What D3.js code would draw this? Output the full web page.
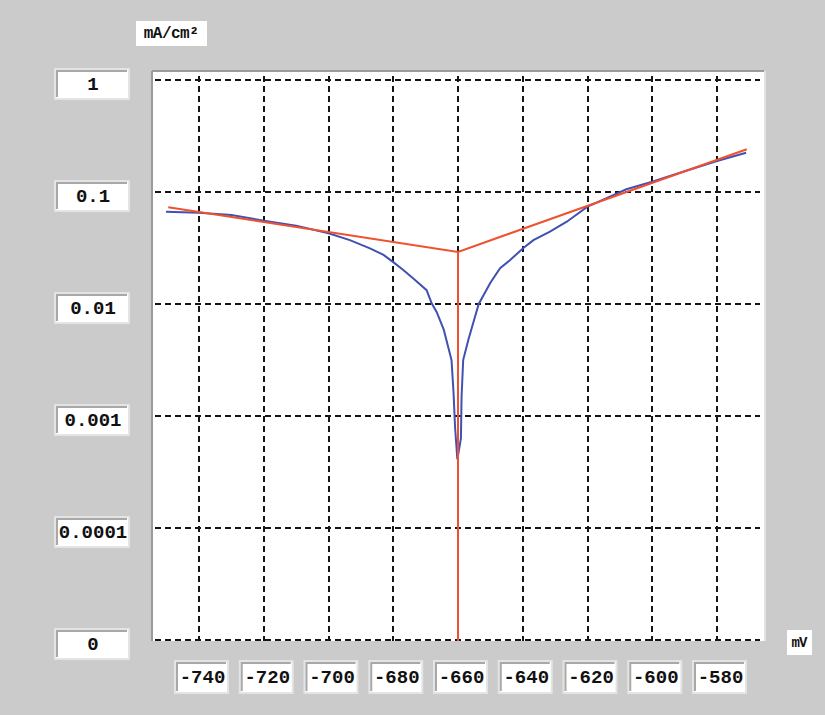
<!DOCTYPE html>
<html lang="en">
<head>
    <meta charset="UTF-8">
    <title>Tafel plot</title>
    <script src="https://cdn.jsdelivr.net/npm/d3@7"></script>
    <style>
        body{
            margin: 0;
            background: #cbcbcb;
        }
        .grid line{
            stroke: #151515;
            stroke-width: 2;
            stroke-dasharray: 6,4;
            shape-rendering: crispEdges;
        }
        .box text{
            font-family: 'Liberation Mono', monospace;
            font-weight: bold;
            font-size: 19px;
            fill: #111;
        }
    </style>
</head>
<body>
    <div id="container"></div>
</body>
</html>
<script>
    // measured curve: potential (mV) and current density (mA/cm2)
    var blueE = [-750.2, -740, -730, -720, -710, -700, -693.4, -687.2, -683, -679.8, -676.9, -673.8,
        -669.7, -668.1, -666.6, -664.4, -662, -661.4, -660.9, -660.2,
        -659.1, -658.9, -658.4, -656.8, -653.6, -650, -647, -643.9, -639.8, -636.7, -631.6,
        -626.4, -620, -614.1, -608, -600, -590, -580, -571]
    var blueI = [0.0667, 0.0653, 0.0624, 0.0555, 0.0501, 0.0428, 0.0372, 0.0314, 0.0274, 0.0234, 0.0201, 0.0169,
        0.0133, 0.0101, 0.0085, 0.0059, 0.00316, 0.00166, 0.00079, 0.00041,
        0.00063, 0.00148, 0.00316, 0.00479, 0.0100, 0.0155, 0.0209, 0.0247, 0.0316, 0.0372, 0.0443,
        0.0543, 0.0740, 0.0879, 0.1057, 0.1236, 0.153, 0.189, 0.224]

    // tafel fit lines, corrosion point in the middle
    var fitE = [-749.5, -660, -570.8]
    var fitI = [0.073, 0.0292, 0.241]

    var xTicks = [-740, -720, -700, -680, -660, -640, -620, -600, -580]
    var yTicks = [1, 0.1, 0.01, 0.001, 0.0001, 0.00001]
    var yLabels = ["1", "0.1", "0.01", "0.001", "0.0001", "0"]

    let width = 825
    let height = 715
    let plot = {left: 153, top: 72, right: 764, bottom: 641}

    let svg = d3.select("#container")
        .append("svg")
        .attr("width", width)
        .attr("height", height)

    let xScale = d3.scaleLinear()
        .domain([-740, -580])
        .range([199, 717])

    let yScale = d3.scaleLog()
        .domain([0.00001, 1])
        .range([640, 80])

    // plot panel
    svg.append("rect")
        .attr("x", plot.left).attr("y", plot.top)
        .attr("width", plot.right - plot.left)
        .attr("height", plot.bottom - plot.top)
        .attr("fill", "#fff")
    svg.append("line")
        .attr("x1", plot.left - 1).attr("x2", plot.right)
        .attr("y1", plot.top - 1).attr("y2", plot.top - 1)
        .attr("stroke", "#9a9a9a").attr("stroke-width", 2)
    svg.append("line")
        .attr("x1", plot.left - 1).attr("x2", plot.left - 1)
        .attr("y1", plot.top - 1).attr("y2", plot.bottom)
        .attr("stroke", "#9a9a9a").attr("stroke-width", 2)
    svg.append("line")
        .attr("x1", plot.right + 1).attr("x2", plot.right + 1)
        .attr("y1", plot.top - 1).attr("y2", plot.bottom)
        .attr("stroke", "#e2e2e2").attr("stroke-width", 2)

    // dashed grid
    let grid = svg.append("g").attr("class", "grid")
    grid.selectAll(".gx")
        .data(xTicks)
        .enter()
        .append("line")
        .attr("x1", d => Math.round(xScale(d)))
        .attr("x2", d => Math.round(xScale(d)))
        .attr("y1", plot.top + 4)
        .attr("y2", plot.bottom)
    grid.selectAll(".gy")
        .data(yTicks)
        .enter()
        .append("line")
        .attr("x1", plot.left + 2)
        .attr("x2", plot.right - 4)
        .attr("y1", d => Math.round(yScale(d)))
        .attr("y2", d => Math.round(yScale(d)))

    // sunken label box
    function box(g, x, y, w, h, label) {
        g.append("rect")
            .attr("x", x).attr("y", y).attr("width", w).attr("height", h)
            .attr("fill", "#fff").attr("stroke", "#e4e4e4").attr("stroke-width", 2)
        g.append("path")
            .attr("d", "M" + (x + 2) + "," + (y + h - 2) + "V" + (y + 2) + "H" + (x + w - 2))
            .attr("fill", "none").attr("stroke", "#a8a8a8").attr("stroke-width", 2)
        g.append("text")
            .attr("x", x + w / 2 + 1).attr("y", y + h / 2 + 1)
            .attr("text-anchor", "middle")
            .attr("dominant-baseline", "central")
            .text(label)
    }

    let yBoxes = svg.append("g").attr("class", "box")
    yTicks.forEach((d, i) => box(yBoxes, 55, yScale(d) - 11, 74, 30, yLabels[i]))

    let xBoxes = svg.append("g").attr("class", "box")
    xTicks.forEach(d => box(xBoxes, xScale(d) - 24, 661, 53, 32, d))

    // unit labels
    let units = svg.append("g").attr("class", "box")
    units.append("rect").attr("x", 136).attr("y", 21).attr("width", 71).attr("height", 25).attr("fill", "#fff")
    units.append("text").attr("x", 171).attr("y", 34)
        .attr("text-anchor", "middle").attr("dominant-baseline", "central")
        .style("font-size", "16px").style("letter-spacing", "-0.5px")
        .text("mA/cm²")
    units.append("rect").attr("x", 787).attr("y", 630).attr("width", 25).attr("height", 25).attr("fill", "#fff")
    units.append("text").attr("x", 799).attr("y", 643)
        .attr("text-anchor", "middle").attr("dominant-baseline", "central")
        .style("font-size", "14px").style("letter-spacing", "-1px")
        .text("mV")

    // measured curve
    let line = d3.line()
        .x((d, i) => xScale(blueE[i]))
        .y(d => yScale(d))
    svg.append("path")
        .datum(blueI)
        .attr("d", line)
        .attr("fill", "none")
        .attr("stroke", "#4151b2")
        .attr("stroke-width", 2)

    // tafel fit and corrosion potential marker
    let fitLine = d3.line()
        .x((d, i) => xScale(fitE[i]))
        .y(d => yScale(d))
    svg.append("path")
        .datum(fitI)
        .attr("d", fitLine)
        .attr("fill", "none")
        .attr("stroke", "#f0502e")
        .attr("stroke-width", 2)
    svg.append("line")
        .attr("x1", xScale(fitE[1])).attr("x2", xScale(fitE[1]))
        .attr("y1", yScale(fitI[1])).attr("y2", plot.bottom)
        .attr("stroke", "#f0502e")
        .attr("stroke-width", 2)
</script>
